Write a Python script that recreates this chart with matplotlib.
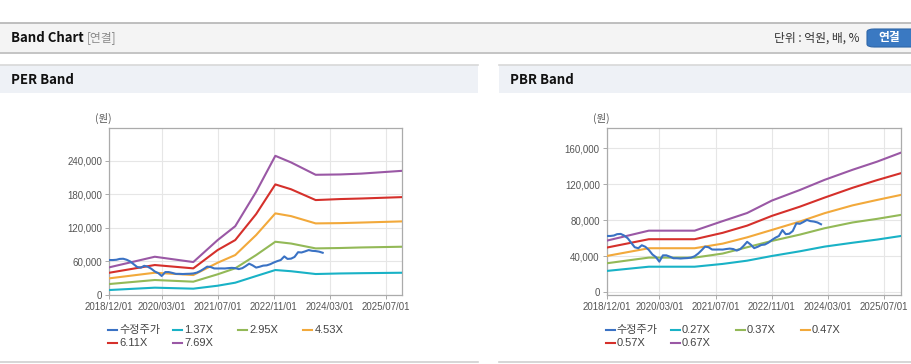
import matplotlib
matplotlib.use("Agg")
import matplotlib.pyplot as plt
from matplotlib.patches import Rectangle, FancyBboxPatch
from matplotlib.lines import Line2D
from matplotlib.ticker import FuncFormatter
import pandas as pd

plt.rcParams['font.family'] = ['Liberation Sans', 'Noto Sans CJK KR']

W, H = 912, 364

# adjusted stock price (수정주가), monthly from 2018/12
price = [62500, 62500, 63000, 64500, 64800, 63000, 60000, 55000, 50000, 48900,
         52200, 50500, 47000, 42000, 39000, 34000, 41000, 41000, 39500, 37800,
         37800, 37500, 37800, 38000, 38500, 40000, 43000, 46500, 50700, 50000,
         47500, 47400, 47500, 47400, 48000, 48500, 48000, 46300, 48000, 51500,
         56000, 53000, 49000, 50500, 52500, 53000, 55000, 58000, 60500, 62500,
         69000, 64500, 65000, 68000, 76500, 76000, 78000, 80300, 79000, 78500,
         77500, 75500]
price_dates = pd.date_range("2018-12-01", periods=len(price), freq="MS")

# PER band
per_dates = pd.to_datetime(["2018-12-01", "2020-01-01", "2020-12-01", "2021-07-01",
                            "2021-12-01", "2022-06-01", "2022-11-15", "2023-04-01",
                            "2023-11-01", "2024-06-01", "2024-12-01", "2025-11-24"])
per_labels = ["1.37X", "2.95X", "4.53X", "6.11X", "7.69X"]
per_137 = [8900, 13100, 11300, 16600, 22000, 33900, 44650, 42500, 37500, 38500, 39000, 39800]
per_295 = [19600, 26800, 23800, 37000, 47700, 71400, 95200, 92000, 83300, 84000, 85000, 86300]
per_453 = [29800, 39800, 35700, 57700, 71400, 107200, 145900, 141000, 128000, 128500, 129500, 131600]
per_611 = [39800, 53600, 47600, 80400, 98200, 144700, 197700, 189000, 169700, 171500, 172500, 175000]
per_769 = [49500, 68400, 58900, 98200, 123000, 184500, 248800, 237000, 214900, 215500, 217000, 222000]

# PBR band
pbr_dates = pd.to_datetime(["2018-12-01", "2019-12-01", "2021-01-01", "2021-09-01",
                            "2022-04-01", "2022-11-01", "2023-07-01", "2024-02-01",
                            "2024-10-01", "2025-05-01", "2025-11-24"])
pbr_labels = ["0.27X", "0.37X", "0.47X", "0.57X", "0.67X"]
pbr_027 = [23700, 28400, 28400, 31500, 35100, 40300, 45500, 50700, 55000, 58500, 62500]
pbr_037 = [32200, 38500, 38500, 43000, 50000, 57000, 64000, 71100, 77500, 81500, 85900]
pbr_047 = [40300, 48900, 48900, 54000, 61000, 69200, 78500, 87800, 96500, 102500, 108100]
pbr_057 = [49600, 58900, 58900, 66000, 74000, 84800, 95000, 105100, 116000, 124500, 132200]
pbr_067 = [57300, 68400, 68400, 79000, 88000, 101800, 113500, 124800, 136000, 145000, 155000]

xtick_dates = pd.to_datetime(["2018-12-01", "2020-03-01", "2021-07-01",
                              "2022-11-01", "2024-03-01", "2025-07-01"])
colors = ["#3a72c4", "#19b2c6", "#93b957", "#f2a93b", "#d5302b", "#9a58a5"]

fig = plt.figure(figsize=(W / 100, H / 100), dpi=100)
fig.patch.set_facecolor("white")


def fx(x):
    return x / W


def fy(y):
    return 1 - y / H


def box(x0, y0, x1, y1, color):
    fig.add_artist(Rectangle((fx(x0), fy(y1)), (x1 - x0) / W, (y1 - y0) / H,
                             transform=fig.transFigure, facecolor=color,
                             edgecolor="none", zorder=0))


def hline(y, x0, x1, color, lw=0.8):
    fig.add_artist(Line2D([fx(x0), fx(x1)], [fy(y), fy(y)], transform=fig.transFigure,
                          color=color, lw=lw, zorder=1))


def label(x, y, s, **kw):
    fig.text(fx(x), fy(y), s, va="center", **kw)


# page header
hline(22.5, 0, W, "#b4b4b4", 1.2)
box(0, 23, W, 52.5, "#f4f4f4")
hline(53, 0, W, "#c4c4c4", 1.4)
label(11, 38, "Band Chart", fontsize=9.5, fontweight="bold", color="#111111",
      family=["Noto Sans CJK KR"])
label(87, 38, "[연결]", fontsize=8.5, color="#8a8a8a", family=["Noto Sans CJK KR"])
label(860, 38, "단위 : 억원, 배, %", fontsize=8.5, color="#333333", ha="right",
      family=["Noto Sans CJK KR"])
fig.add_artist(FancyBboxPatch((fx(867), fy(47)), (920 - 867) / W, 18 / H,
                              boxstyle="round,pad=0,rounding_size=0.008",
                              transform=fig.transFigure, facecolor="#3a79c2",
                              edgecolor="#2f66a8", lw=0.8, zorder=1))
label(889, 38, "연결", fontsize=8.5, fontweight="bold", color="white", ha="center",
      family=["Noto Sans CJK KR"])

# panel headers
for x0, x1, title in [(0, 478, "PER Band"), (499, W, "PBR Band")]:
    hline(64.5, x0, x1, "#d8d8d8", 1.2)
    box(x0, 65, x1, 93, "#eef1f6")
    hline(362, x0, x1, "#d0d0d0", 1.2)
    label(x0 + 11, 80, title, fontsize=9.5, fontweight="bold", color="#111111",
          family=["Noto Sans CJK KR"])


def band_chart(left, right, dates, bands, labels, ylim, yticks):
    ax = fig.add_axes([fx(left), fy(295), (right - left) / W, (295 - 128.3) / H])
    for vals, c in zip(bands, colors[1:]):
        ax.plot(dates, vals, color=c, lw=1.5, zorder=3)
    ax.plot(price_dates, price, color=colors[0], lw=1.5, zorder=4)
    ax.set_xlim(pd.Timestamp("2018-12-01"), pd.Timestamp("2025-11-24"))
    ax.set_ylim(*ylim)
    ax.set_yticks(yticks)
    ax.yaxis.set_major_formatter(FuncFormatter(lambda v, p: "{:,.0f}".format(v)))
    ax.set_xticks(xtick_dates)
    ax.set_xticklabels([d.strftime("%Y/%m/%d") for d in xtick_dates])
    ax.grid(True, color="#e6e6e6", lw=0.8, zorder=0)
    for s in ax.spines.values():
        s.set_color("#ababab")
        s.set_linewidth(0.9)
    ax.tick_params(labelsize=7, colors="#555555", length=3, width=0.7, pad=2)
    ax.tick_params(axis="both", color="#aaaaaa")
    label(left - 14, 118, "(원)", fontsize=7.5, color="#555555",
          family=["Noto Sans CJK KR"])
    # legend, laid out in rows of four
    names = ["수정주가"] + labels
    for i, (name, c) in enumerate(zip(names, colors)):
        lx = left - 1 + (i % 4) * 65
        ly = 330 + (i // 4) * 13.3
        fig.add_artist(Line2D([fx(lx), fx(lx + 9)], [fy(ly), fy(ly)],
                              transform=fig.transFigure, color=c, lw=1.5))
        label(lx + 11, ly, name, fontsize=8, color="#444444")
    return ax


band_chart(109.3, 402.3, per_dates, [per_137, per_295, per_453, per_611, per_769],
           per_labels, (0, 298000), [0, 60000, 120000, 180000, 240000])
band_chart(606.7, 901, pbr_dates, [pbr_027, pbr_037, pbr_047, pbr_057, pbr_067],
           pbr_labels, (-3000, 182000), [0, 40000, 80000, 120000, 160000])

fig.savefig("out.png", dpi=100)
